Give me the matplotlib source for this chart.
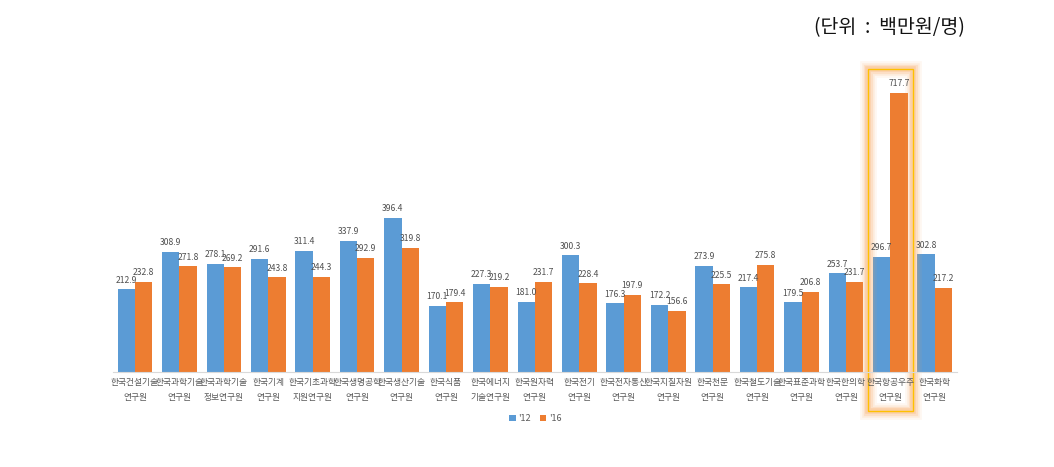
import matplotlib
matplotlib.use("Agg")
import matplotlib.pyplot as plt
from matplotlib.patches import Rectangle
import numpy as np

plt.rcParams['font.family'] = ['Noto Sans CJK KR', 'DejaVu Sans']

기관 = ['한국건설기술\n연구원', '한국과학기술\n연구원', '한국과학기술\n정보연구원', '한국기계\n연구원',
       '한국기초과학\n지원연구원', '한국생명공학\n연구원', '한국생산기술\n연구원', '한국식품\n연구원',
       '한국에너지\n기술연구원', '한국원자력\n연구원', '한국전기\n연구원', '한국전자통신\n연구원',
       '한국지질자원\n연구원', '한국천문\n연구원', '한국철도기술\n연구원', '한국표준과학\n연구원',
       '한국한의학\n연구원', '한국항공우주\n연구원', '한국화학\n연구원']
값_12 = [212.9, 308.9, 278.1, 291.6, 311.4, 337.9, 396.4, 170.1, 227.3, 181.0,
        300.3, 176.3, 172.2, 273.9, 217.4, 179.5, 253.7, 296.7, 302.8]
값_16 = [232.8, 271.8, 269.2, 243.8, 244.3, 292.9, 319.8, 179.4, 219.2, 231.7,
        228.4, 197.9, 156.6, 225.5, 275.8, 206.8, 231.7, 717.7, 217.2]
강조 = 17  # 한국항공우주연구원

fig = plt.figure(figsize=(10.54, 4.67), dpi=100)
ax = fig.add_axes([0.107, 0.2034, 0.801, 0.666])

x = np.arange(len(기관))
w = 0.39
b1 = ax.bar(x - w / 2, 값_12, w, color='#5B9BD5', label="'12")
b2 = ax.bar(x + w / 2, 값_16, w, color='#ED7D31', label="'16")

for bars, vals in ((b1, 값_12), (b2, 값_16)):
    for r, v in zip(bars, vals):
        ax.text(r.get_x() + r.get_width() / 2, v + 12, f'{v:.1f}', ha='center', va='bottom',
                fontsize=6.2, color='#505050')

ax.set_xlim(-0.5, len(기관) - 0.5)
ax.set_ylim(0, 800)
ax.set_yticks([])
ax.set_xticks(x)
ax.set_xticklabels(기관, fontsize=6.3, color='#595959', linespacing=1.9)
ax.tick_params(axis='x', length=0, pad=4)
for s in ['top', 'right', 'left']:
    ax.spines[s].set_visible(False)
ax.spines['bottom'].set_color('#D9D9D9')

# 강조 상자 (glow)
for lw, a in [(12, 0.08), (9, 0.12), (6.5, 0.16), (4, 0.25)]:
    ax.add_patch(Rectangle((강조 - 0.5, -100), 1.0, 880, fill=False, ec='#F8A050',
                           lw=lw, alpha=a, clip_on=False))
ax.add_patch(Rectangle((강조 - 0.5, -100), 1.0, 880, fill=False, ec='#FFC000',
                       lw=1.0, clip_on=False))

fig.legend(loc='center', bbox_to_anchor=(0.508, 0.103), ncol=2, frameon=False,
           fontsize=6.5, handlelength=0.7, handleheight=0.7, handletextpad=0.3,
           columnspacing=1.0, labelcolor='#595959')

fig.text(0.915, 0.94, '(단위  :  백만원/명)', ha='right', va='center', fontsize=14, color='#111111')

fig.savefig('out.png', dpi=100)
